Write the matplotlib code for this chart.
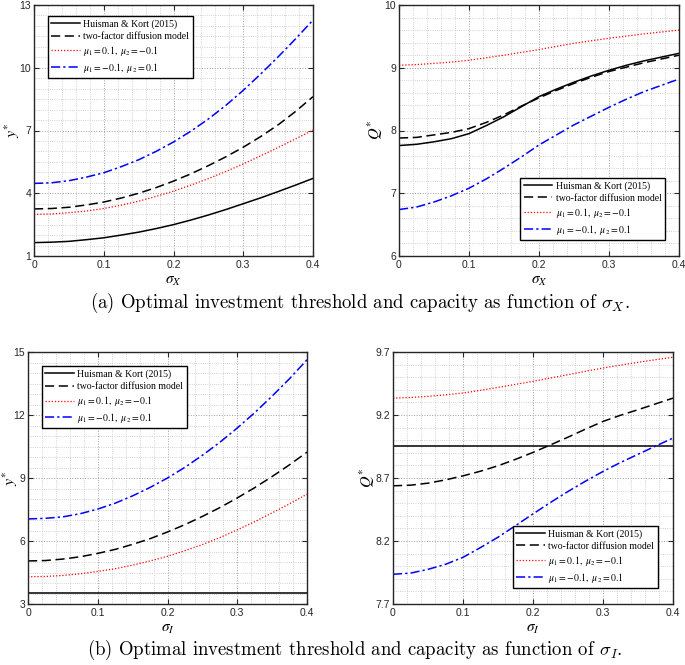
import numpy as np
import matplotlib
matplotlib.use('Agg')
import matplotlib.pyplot as plt
from matplotlib.ticker import MultipleLocator

# sigma grid shared by every panel
sigma = [0, 0.025, 0.05, 0.075, 0.1, 0.125, 0.15, 0.175, 0.2,
         0.225, 0.25, 0.275, 0.3, 0.325, 0.35, 0.375, 0.4]

# (a) threshold y* vs sigma_X
yx_hk = [1.64, 1.66, 1.70, 1.78, 1.87, 2.00, 2.14, 2.31, 2.50,
         2.72, 2.96, 3.22, 3.50, 3.78, 4.08, 4.39, 4.71]
yx_two = [3.25, 3.27, 3.33, 3.44, 3.58, 3.77, 4.00, 4.27, 4.58,
          4.93, 5.32, 5.74, 6.20, 6.71, 7.27, 7.91, 8.62]
yx_red = [2.99, 3.01, 3.07, 3.15, 3.27, 3.43, 3.62, 3.85, 4.10,
          4.39, 4.70, 5.04, 5.40, 5.79, 6.19, 6.60, 7.02]
yx_blue = [4.47, 4.50, 4.60, 4.77, 4.98, 5.27, 5.60, 6.00, 6.45,
           6.97, 7.55, 8.20, 8.92, 9.70, 10.52, 11.38, 12.28]

# (a) capacity Q* vs sigma_X
qx_hk = [7.76, 7.78, 7.82, 7.87, 7.95, 8.08, 8.22, 8.38, 8.54,
         8.66, 8.77, 8.87, 8.96, 9.04, 9.11, 9.17, 9.23]
qx_two = [7.88, 7.89, 7.93, 7.97, 8.03, 8.13, 8.25, 8.39, 8.52,
          8.64, 8.75, 8.85, 8.94, 9.01, 9.08, 9.14, 9.20]
qx_red = [9.04, 9.05, 9.07, 9.09, 9.12, 9.16, 9.20, 9.245, 9.29,
          9.34, 9.39, 9.43, 9.47, 9.505, 9.54, 9.57, 9.60]
qx_blue = [6.74, 6.78, 6.86, 6.96, 7.08, 7.23, 7.40, 7.58, 7.77,
           7.93, 8.09, 8.23, 8.37, 8.50, 8.62, 8.72, 8.82]

# (b) threshold y* vs sigma_I
yi_hk = [3.51] * 17
yi_two = [5.05, 5.07, 5.14, 5.25, 5.41, 5.60, 5.84, 6.11, 6.43,
          6.78, 7.17, 7.59, 8.05, 8.54, 9.07, 9.63, 10.23]
yi_red = [4.30, 4.31, 4.36, 4.44, 4.55, 4.68, 4.85, 5.05, 5.27,
          5.54, 5.83, 6.16, 6.53, 6.92, 7.34, 7.77, 8.23]
yi_blue = [7.05, 7.08, 7.15, 7.30, 7.52, 7.80, 8.15, 8.55, 9.00,
           9.51, 10.08, 10.70, 11.38, 12.11, 12.90, 13.73, 14.63]

# (b) capacity Q* vs sigma_I
qi_hk = [8.956] * 17
qi_two = [8.638, 8.643, 8.659, 8.685, 8.717, 8.754, 8.797, 8.848, 8.903,
          8.963, 9.024, 9.088, 9.149, 9.198, 9.242, 9.288, 9.334]
qi_red = [9.334, 9.339, 9.348, 9.360, 9.374, 9.396, 9.419, 9.443, 9.467,
          9.494, 9.520, 9.547, 9.573, 9.596, 9.618, 9.639, 9.658]
qi_blue = [7.936, 7.945, 7.975, 8.015, 8.070, 8.148, 8.230, 8.322, 8.415,
           8.506, 8.593, 8.675, 8.752, 8.823, 8.888, 8.953, 9.017]

labels = ['Huisman & Kort (2015)', 'two-factor diffusion model',
          r'$\mu_1=0.1,\ \mu_2=-0.1$', r'$\mu_1=-0.1,\ \mu_2=0.1$']

plt.rcParams['font.family'] = ['Liberation Sans', 'DejaVu Sans']
plt.rcParams['mathtext.fontset'] = 'stix'

fig = plt.figure(figsize=(6.85, 6.65), dpi=100)
W, H = 685.0, 665.0


def make_ax(l, r, t, b):
    return fig.add_axes([l / W, 1 - b / H, (r - l) / W, (b - t) / H])


def panel(ax, series, yticks, yminor, ylabel, xlabel, ylab_x, leg_loc, leg_anchor):
    styles = [dict(color='k', ls='-', lw=1.1),
              dict(color='k', ls=(0, (6, 3)), lw=1.1),
              dict(color='r', ls=(0, (1, 1.5)), lw=0.9),
              dict(color='b', ls=(0, (6, 2, 1.5, 2)), lw=1.1)]
    for vals, st, lab in zip(series, styles, labels):
        ax.plot(sigma, vals, label=lab, **st)
    ax.set_xlim(0, 0.4)
    ax.set_ylim(yticks[0], yticks[-1])
    ax.set_xticks([0, 0.1, 0.2, 0.3, 0.4])
    ax.set_xticklabels(['0', '0.1', '0.2', '0.3', '0.4'])
    ax.set_yticks(yticks)
    ax.set_yticklabels([('%g' % v) for v in yticks])
    ax.xaxis.set_minor_locator(MultipleLocator(0.02))
    ax.yaxis.set_minor_locator(MultipleLocator(yminor))
    ax.grid(True, which='major', ls=':', color='#a0a0a0', lw=0.7)
    ax.grid(True, which='minor', ls=':', color='#c4c4c4', lw=0.6)
    ax.tick_params(which='major', direction='in', length=3.5, width=0.8,
                   top=True, right=True, labelsize=7.5, colors='#262626',
                   labelcolor='#262626')
    ax.tick_params(axis='x', which='major', pad=3)
    ax.tick_params(axis='y', which='major', pad=2)
    ax.tick_params(which='minor', length=0, top=True, right=True)
    for s in ax.spines.values():
        s.set_linewidth(1.0)
        s.set_color('#262626')
    ax.set_ylabel(ylabel, fontsize=11.5, va='center')
    ax.yaxis.set_label_coords(ylab_x, 0.5)
    ax.set_xlabel(xlabel, fontsize=11, labelpad=3)
    leg = ax.legend(loc=leg_loc, bbox_to_anchor=leg_anchor, borderaxespad=0,
                    fancybox=False, framealpha=1, edgecolor='k',
                    prop={'family': 'Liberation Serif', 'size': 7},
                    handlelength=2.9, labelspacing=0.3, borderpad=0.35,
                    handletextpad=0.4)
    leg.get_frame().set_linewidth(1.0)


ax1 = make_ax(34, 313, 5, 256)
panel(ax1, [yx_hk, yx_two, yx_red, yx_blue], [1, 4, 7, 10, 13], 0.5,
      r'$y^{*}$', r'$\sigma_X$', -0.079, 'upper left', (0.05, 0.956))

ax2 = make_ax(399, 679, 5, 256)
panel(ax2, [qx_hk, qx_two, qx_red, qx_blue], [6, 7, 8, 9, 10], 0.2,
      r'$Q^{*}$', r'$\sigma_X$', -0.086, 'lower right', (0.95, 0.064))

ax3 = make_ax(28, 307, 352, 604)
panel(ax3, [yi_hk, yi_two, yi_red, yi_blue], [3, 6, 9, 12, 15], 0.5,
      r'$y^{*}$', r'$\sigma_I$', -0.0645, 'upper left', (0.05, 0.944))

ax4 = make_ax(393, 673, 352, 604)
panel(ax4, [qi_hk, qi_two, qi_red, qi_blue], [7.7, 8.2, 8.7, 9.2, 9.7], 0.1,
      r'$Q^{*}$', r'$\sigma_I$', -0.093, 'lower right', (0.946, 0.063))

fig.text(360 / W, 1 - 303 / H,
         r'(a) Optimal investment threshold and capacity as function of $\sigma_X$.',
         ha='center', va='center', fontsize=13.5, family='cmr10',
         math_fontfamily='cm')
fig.text(355 / W, 1 - 650 / H,
         r'(b) Optimal investment threshold and capacity as function of $\sigma_I$.',
         ha='center', va='center', fontsize=13.5, family='cmr10',
         math_fontfamily='cm')

fig.savefig('out.png', dpi=100)
